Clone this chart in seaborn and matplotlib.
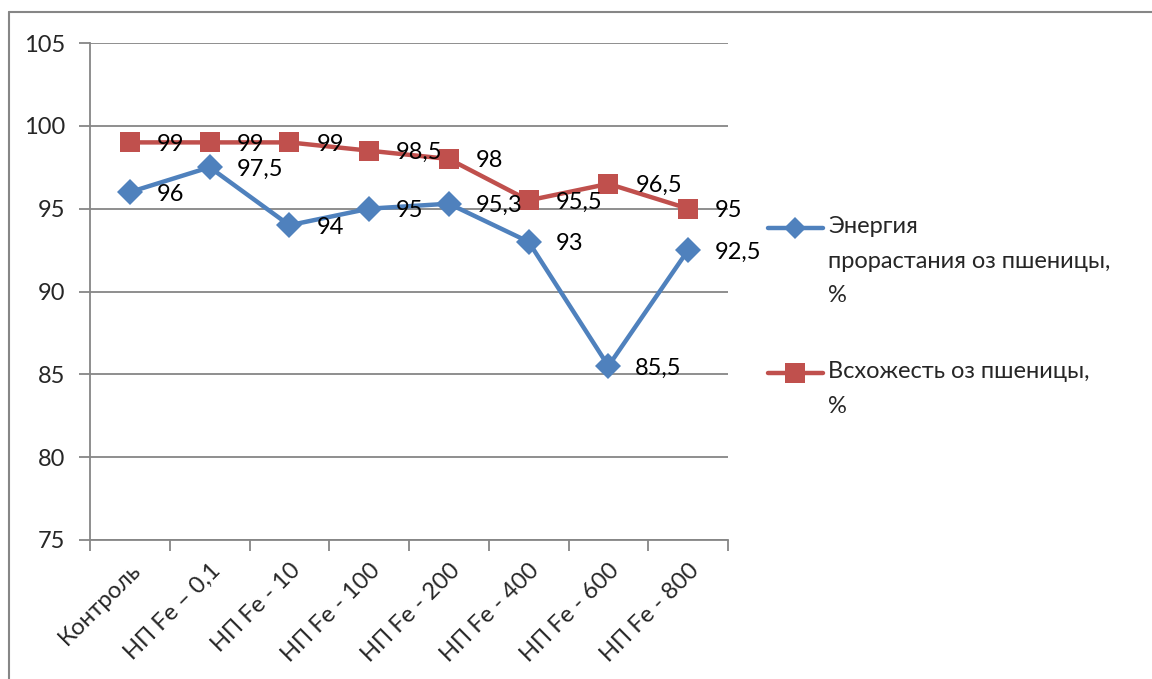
import matplotlib
matplotlib.use("Agg")
import matplotlib.pyplot as plt
from matplotlib.lines import Line2D
import seaborn as sns
import pandas as pd

categories = ["Контроль", "НП Fe – 0,1", "НП Fe - 10", "НП Fe - 100",
              "НП Fe - 200", "НП Fe - 400", "НП Fe - 600", "НП Fe - 800"]
energy = [96, 97.5, 94, 95, 95.3, 93, 85.5, 92.5]
germination = [99, 99, 99, 98.5, 98, 95.5, 96.5, 95]
energy_label = "Энергия\nпрорастания оз пшеницы,\n%"
germination_label = "Всхожесть оз пшеницы,\n%"
y_ticks = [75, 80, 85, 90, 95, 100, 105]

BLUE = "#4F81BD"
RED = "#C0504D"
GRID = "#868686"

sns.set_theme(style="white")
plt.rcParams["font.family"] = ["Lato", "DejaVu Sans"]
FS = 17

df = pd.DataFrame({
    "cat": categories * 2,
    "pos": list(range(len(categories))) * 2,
    "value": energy + germination,
    "series": ["energy"] * len(categories) + ["germ"] * len(categories),
})

fig = plt.figure(figsize=(11.52, 6.79), dpi=100)
ax = fig.add_axes([90 / 1152, 1 - 540 / 679, (728 - 90) / 1152, (540 - 43) / 679])

styles = {
    "energy": dict(color=BLUE, marker="D", ms=13),
    "germ": dict(color=RED, marker="s", ms=14),
}
for key in ["energy", "germ"]:
    sub = df[df["series"] == key]
    st = styles[key]
    sns.lineplot(data=sub, x="pos", y="value", ax=ax, color=st["color"],
                 linewidth=3.2, marker=st["marker"], markersize=st["ms"],
                 markeredgewidth=0, markeredgecolor=st["color"], legend=False,
                 zorder=3)
    for x, v in zip(sub["pos"], sub["value"]):
        txt = f"{v:g}".replace(".", ",")
        ax.annotate(txt, (x, v), xytext=(27, -2), textcoords="offset pixels",
                    ha="left", va="center", fontsize=FS, color="black", zorder=4)

ax.set_xlim(-0.5, len(categories) - 0.5)
ax.set_ylim(75, 105)
ax.set_yticks(y_ticks)
ax.set_yticklabels([str(t) for t in y_ticks], fontsize=FS)
ax.set_xticks(range(len(categories)))
ax.set_xticklabels(categories, fontsize=FS, rotation=45, ha="right",
                   va="top", rotation_mode="anchor")
ax.set_xticks([i - 0.5 for i in range(len(categories) + 1)], minor=True)
ax.tick_params(axis="x", which="major", length=0, pad=14)
ax.tick_params(axis="x", which="minor", length=8, width=1.3, color=GRID,
               direction="out", bottom=True)
ax.tick_params(axis="y", length=8, width=1.3, color=GRID, direction="out",
               left=True, pad=10)
ax.set_xlabel("")
ax.set_ylabel("")
ax.grid(axis="y", color=GRID, linewidth=1.3)
ax.set_axisbelow(True)
for side in ["top", "right"]:
    ax.spines[side].set_visible(False)
for side in ["left", "bottom"]:
    ax.spines[side].set_color(GRID)
    ax.spines[side].set_linewidth(1.3)

# legend entries, marker aligned with the first text line
def legend_entry(y_px, color, marker, ms, label):
    y = 1 - y_px / 679
    fig.add_artist(Line2D([768 / 1152, 823 / 1152], [y, y], color=color,
                          linewidth=3.2, transform=fig.transFigure))
    fig.add_artist(Line2D([795 / 1152], [y], color=color, marker=marker,
                          markersize=ms, markeredgewidth=0,
                          transform=fig.transFigure))
    fig.text(828 / 1152, 1 - (y_px - 12) / 679, label, ha="left",
             va="top", fontsize=FS, linespacing=1.8,
             transform=fig.transFigure)

legend_entry(228, BLUE, "D", 11, energy_label)
legend_entry(373, RED, "s", 14, germination_label)

# outer frame of the chart area
fig.add_artist(Line2D([9 / 1152, 9 / 1152], [0, 1 - 12 / 679], color=GRID,
                      linewidth=1.5, transform=fig.transFigure))
fig.add_artist(Line2D([9 / 1152, 1], [1 - 12 / 679, 1 - 12 / 679], color=GRID,
                      linewidth=1.5, transform=fig.transFigure))

fig.savefig("out.png", dpi=100, facecolor="white")
